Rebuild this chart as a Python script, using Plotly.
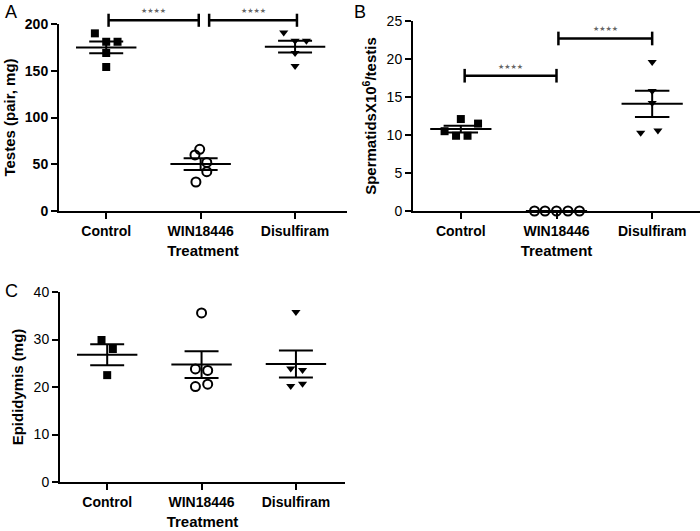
import numpy as np
import plotly.graph_objects as go

categories = ["Control", "WIN18446", "Disulfiram"]

# Panel A: Testes (pair, mg)
testes_control = [190, 181, 181, 169, 154]
testes_win = [66, 60, 52, 42, 31]
testes_disulfiram = [191, 182, 182, 169, 155]

# Panel B: Spermatids x10^6 / testis
sperm_control = [12.1, 11.5, 10.5, 9.9, 9.9]
sperm_win = [0, 0, 0, 0, 0]
sperm_disulfiram = [19.6, 15.8, 14.2, 10.3, 10.6]

# Panel C: Epididymis (mg)
epi_control = [29.9, 28.0, 22.5]
epi_win = [35.6, 23.8, 23.5, 20.1, 20.6]
epi_disulfiram = [35.8, 23.9, 23.6, 20.2, 20.7]

a_ticks = [0, 50, 100, 150, 200]
b_ticks = [0, 5, 10, 15, 20, 25]
c_ticks = [0, 10, 20, 30, 40]

# significance comparisons: (from group, to group, bar height)
sig_a = [(0, 1, 204), (1, 2, 204)]
sig_b = [(0, 1, 17.8), (1, 2, 22.7)]

# horizontal spread of points (category units), layout only
jit = {
    ("A", 0): [-0.12, 0, 0.12, 0, 0],
    ("A", 1): [-0.01, -0.06, 0.065, 0.065, -0.05],
    ("A", 2): [-0.12, 0, 0.12, 0, 0],
    ("B", 0): [0.0, 0.18, -0.17, -0.05, 0.07],
    ("B", 1): [-0.23, -0.12, 0, 0.12, 0.24],
    ("B", 2): [0, 0, 0, -0.12, 0.06],
    ("C", 0): [-0.06, 0.06, 0],
    ("C", 1): [0, -0.065, 0.065, -0.065, 0.065],
    ("C", 2): [0, -0.055, 0.07, -0.055, 0.07],
}

FONT = "Liberation Sans, Arial, sans-serif"
markers = [
    dict(symbol="square", size=8, color="black"),
    dict(symbol="circle-open", size=9, color="black", line=dict(width=2, color="black")),
    dict(symbol="triangle-down", size=8, color="black"),
]

fig = go.Figure()

panels = [
    ("A", "x", "y", [testes_control, testes_win, testes_disulfiram]),
    ("B", "x2", "y2", [sperm_control, sperm_win, sperm_disulfiram]),
    ("C", "x3", "y3", [epi_control, epi_win, epi_disulfiram]),
]

for key, xa, ya, groups in panels:
    for gi, vals in enumerate(groups):
        vals = np.array(vals, dtype=float)
        xs = [gi + o for o in jit[(key, gi)]]
        fig.add_trace(go.Scatter(x=xs, y=vals, mode="markers", marker=markers[gi],
                                 xaxis=xa, yaxis=ya, cliponaxis=False, showlegend=False,
                                 hoverinfo="skip"))
        m = vals.mean()
        sem = vals.std(ddof=1) / np.sqrt(len(vals))
        lx = [gi - 0.32, gi + 0.32, None, gi - 0.18, gi + 0.18, None, gi - 0.18, gi + 0.18, None, gi, gi]
        ly = [m, m, None, m + sem, m + sem, None, m - sem, m - sem, None, m - sem, m + sem]
        fig.add_trace(go.Scatter(x=lx, y=ly, mode="lines", line=dict(color="black", width=2),
                                 xaxis=xa, yaxis=ya, cliponaxis=False, showlegend=False,
                                 hoverinfo="skip"))

# significance bars (A uses an invisible axis with the same scale that extends above 200)
bar_off = {("x", 0, 1): (0.025, -0.02), ("x", 1, 2): (0.09, 0.02),
           ("x2", 0, 1): (0.04, 0.0), ("x2", 1, 2): (0.02, 0.0)}
sig = [("x", "y4", g0, g1, yv, 7) for g0, g1, yv in sig_a] + \
      [("x2", "y2", g0, g1, yv, 0.9) for g0, g1, yv in sig_b]
for xa, ya, g0, g1, yv, cap in sig:
    o0, o1 = bar_off[(xa, g0, g1)]
    x0, x1 = g0 + o0, g1 + o1
    fig.add_trace(go.Scatter(x=[x0, x1, None, x0, x0, None, x1, x1],
                             y=[yv, yv, None, yv - cap, yv + cap, None, yv - cap, yv + cap],
                             mode="lines", line=dict(color="black", width=2.5),
                             xaxis=xa, yaxis=ya, cliponaxis=False, showlegend=False,
                             hoverinfo="skip"))
    fig.add_annotation(x=(x0 + x1) / 2, y=yv, xref=xa, yref=ya, text="★★★★",
                       showarrow=False, yshift=9,
                       font=dict(family="DejaVu Sans", size=7, color="#666"))

def xaxis_cfg(domain, rng, anchor):
    return dict(domain=domain, range=rng, anchor=anchor, tickmode="array",
                tickvals=[0, 1, 2], ticktext=categories, showline=True, linewidth=2,
                linecolor="black", ticks="outside", ticklen=6, tickwidth=2, tickcolor="black",
                showgrid=False, zeroline=False, automargin=False,
                tickfont=dict(family=FONT, size=14, color="black", weight="bold"),
                title=dict(text="Treatment", standoff=8,
                           font=dict(family=FONT, size=15, color="black", weight="bold")))

def yaxis_cfg(domain, rng, ticks, anchor, title, bold):
    return dict(domain=domain, range=rng, anchor=anchor, tickmode="array", tickvals=ticks,
                showline=True, linewidth=2, linecolor="black", ticks="outside", ticklen=6,
                tickwidth=2, tickcolor="black", showgrid=False, zeroline=False, automargin=False,
                tickfont=dict(family=FONT, size=14, color="black", weight="bold" if bold else "normal"),
                title=dict(text=title, standoff=6,
                           font=dict(family=FONT, size=15, color="black", weight="bold")))

H = 531.0
W = 700.0
a_top_px = 4  # invisible extension axis top for panel A
a_ext_max = 200 * (211 - a_top_px) / (211 - 24)
fig.update_layout(
    width=700, height=531, margin=dict(l=0, r=0, t=0, b=0),
    paper_bgcolor="white", plot_bgcolor="rgba(0,0,0,0)", showlegend=False,
    xaxis=xaxis_cfg([59 / W, 347 / W], [-0.5, 2.55], "y"),
    yaxis=yaxis_cfg([1 - 211 / H, 1 - 24 / H], [0, 200], a_ticks, "x", "Testes (pair, mg)", True),
    yaxis4=dict(domain=[1 - 211 / H, 1 - a_top_px / H], range=[0, a_ext_max], anchor="x",
                visible=False, showgrid=False, zeroline=False),
    xaxis2=xaxis_cfg([413 / W, 1.0], [-0.5, 2.5], "y2"),
    yaxis2=yaxis_cfg([1 - 211 / H, 1 - 21 / H], [0, 25], b_ticks, "x2",
                     "SpermatidsX10<sup>6</sup>/testis", False),
    xaxis3=xaxis_cfg([60 / W, 345 / W], [-0.5, 2.52], "y3"),
    yaxis3=yaxis_cfg([1 - 482 / H, 1 - 292 / H], [0, 40], c_ticks, "x3", "Epididymis (mg)", False),
)

for lab, px, py in [("A", 3, 0), ("B", 352, 0), ("C", 3, 279)]:
    fig.add_annotation(x=px / W, y=1 - py / H, xref="paper", yref="paper", text=lab,
                       showarrow=False, xanchor="left", yanchor="top",
                       font=dict(family=FONT, size=18, color="black"))

fig.write_html("out.html", config={"displayModeBar": False},
               post_script="document.body.style.margin='0';")
